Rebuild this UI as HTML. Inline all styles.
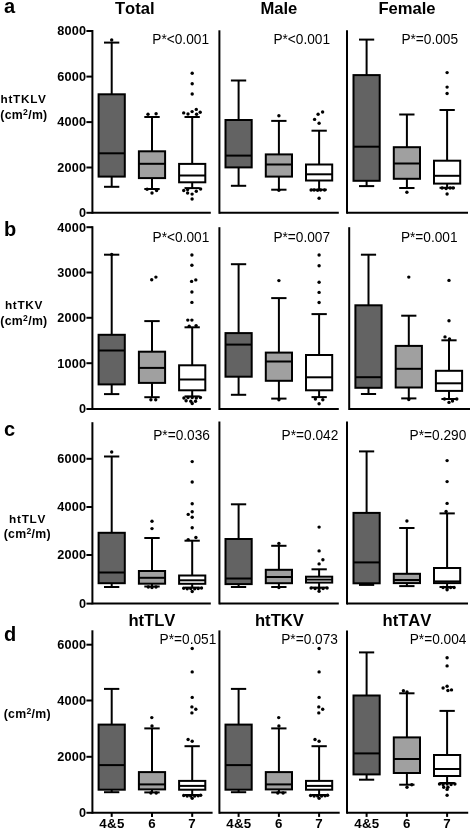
<!DOCTYPE html>
<html><head><meta charset="utf-8"><title>Figure</title>
<style>
html,body{margin:0;padding:0;background:#fff;}
body{width:472px;height:830px;overflow:hidden;}
svg{display:block;font-family:"Liberation Sans",Arial,Helvetica,sans-serif;fill:#000;font-kerning:none;}
</style></head><body>
<svg width="472" height="830" viewBox="0 0 472 830">
<rect x="0" y="0" width="472" height="830" fill="#fff" stroke="none"/>
<text x="4.0" y="13.2" font-size="20" font-weight="700" text-anchor="start">a</text>
<text x="4.0" y="235.6" font-size="20" font-weight="700" text-anchor="start">b</text>
<text x="4.0" y="435.6" font-size="20" font-weight="700" text-anchor="start">c</text>
<text x="4.0" y="641.3" font-size="20" font-weight="700" text-anchor="start">d</text>
<text x="134.8" y="13.7" font-size="16.6" font-weight="700" text-anchor="middle">Total</text>
<text x="278.9" y="13.7" font-size="16.6" font-weight="700" text-anchor="middle">Male</text>
<text x="407.0" y="13.7" font-size="16.6" font-weight="700" text-anchor="middle">Female</text>
<text x="151.9" y="626.2" font-size="16.6" font-weight="700" text-anchor="middle">htTLV</text>
<text x="279.4" y="626.2" font-size="16.6" font-weight="700" text-anchor="middle">htTKV</text>
<text x="407.0" y="626.2" font-size="16.6" font-weight="700" text-anchor="middle">htTAV</text>
<text x="0.5" y="103.4" font-size="11.8" font-weight="700" text-anchor="start" letter-spacing="0.7">htTKLV</text>
<text x="0.3" y="118.7" font-size="12.3" font-weight="700" text-anchor="start" letter-spacing="0.3">(cm<tspan font-size="8.6" dy="-4.0">2</tspan><tspan dy="4.0">/m)</tspan></text>
<text x="4.9" y="309.4" font-size="11.8" font-weight="700" text-anchor="start" letter-spacing="0.7">htTKV</text>
<text x="0.3" y="324.6" font-size="12.3" font-weight="700" text-anchor="start" letter-spacing="0.3">(cm<tspan font-size="8.6" dy="-4.0">2</tspan><tspan dy="4.0">/m)</tspan></text>
<text x="9.1" y="523.1" font-size="11.8" font-weight="700" text-anchor="start" letter-spacing="0.7">htTLV</text>
<text x="3.7" y="538.2" font-size="12.3" font-weight="700" text-anchor="start" letter-spacing="0.3">(cm<tspan font-size="8.6" dy="-4.0">2</tspan><tspan dy="4.0">/m)</tspan></text>
<text x="3.7" y="717.5" font-size="12.3" font-weight="700" text-anchor="start" letter-spacing="0.3">(cm<tspan font-size="8.6" dy="-4.0">2</tspan><tspan dy="4.0">/m)</tspan></text>
<line x1="92.4" y1="30.0" x2="92.4" y2="213.8" stroke="#000" stroke-width="2.0" stroke-linecap="butt"/>
<line x1="92.4" y1="212.8" x2="210.8" y2="212.8" stroke="#000" stroke-width="2.0" stroke-linecap="butt"/>
<line x1="86.4" y1="31.0" x2="92.4" y2="31.0" stroke="#000" stroke-width="2.0" stroke-linecap="butt"/>
<text x="86.4" y="35.3" font-size="12.7" font-weight="700" text-anchor="end" letter-spacing="0.25">8000</text>
<line x1="86.4" y1="76.6" x2="92.4" y2="76.6" stroke="#000" stroke-width="2.0" stroke-linecap="butt"/>
<text x="86.4" y="80.9" font-size="12.7" font-weight="700" text-anchor="end" letter-spacing="0.25">6000</text>
<line x1="86.4" y1="122.1" x2="92.4" y2="122.1" stroke="#000" stroke-width="2.0" stroke-linecap="butt"/>
<text x="86.4" y="126.4" font-size="12.7" font-weight="700" text-anchor="end" letter-spacing="0.25">4000</text>
<line x1="86.4" y1="167.5" x2="92.4" y2="167.5" stroke="#000" stroke-width="2.0" stroke-linecap="butt"/>
<text x="86.4" y="171.8" font-size="12.7" font-weight="700" text-anchor="end" letter-spacing="0.25">2000</text>
<line x1="86.4" y1="212.8" x2="92.4" y2="212.8" stroke="#000" stroke-width="2.0" stroke-linecap="butt"/>
<text x="86.4" y="217.1" font-size="12.7" font-weight="700" text-anchor="end" letter-spacing="0.25">0</text>
<line x1="219.4" y1="30.3" x2="219.4" y2="213.8" stroke="#000" stroke-width="2.0" stroke-linecap="butt"/>
<line x1="219.4" y1="212.8" x2="338.8" y2="212.8" stroke="#000" stroke-width="2.0" stroke-linecap="butt"/>
<line x1="347.0" y1="30.3" x2="347.0" y2="213.8" stroke="#000" stroke-width="2.0" stroke-linecap="butt"/>
<line x1="347.0" y1="212.8" x2="468.0" y2="212.8" stroke="#000" stroke-width="2.0" stroke-linecap="butt"/>
<text transform="translate(209.0,44.1) scale(1,1.07)" font-size="13.7" text-anchor="end">P*&lt;0.001</text>
<text transform="translate(330.1,44.1) scale(1,1.07)" font-size="13.7" text-anchor="end">P*&lt;0.001</text>
<text transform="translate(458.1,44.1) scale(1,1.07)" font-size="13.7" text-anchor="end">P*=0.005</text>
<line x1="111.7" y1="42.6" x2="111.7" y2="94.3" stroke="#000" stroke-width="2.0" stroke-linecap="butt"/>
<line x1="111.7" y1="176.6" x2="111.7" y2="186.8" stroke="#000" stroke-width="2.0" stroke-linecap="butt"/>
<line x1="104.0" y1="42.6" x2="119.3" y2="42.6" stroke="#000" stroke-width="2.0" stroke-linecap="butt"/>
<line x1="104.0" y1="186.8" x2="119.3" y2="186.8" stroke="#000" stroke-width="2.0" stroke-linecap="butt"/>
<rect x="98.6" y="94.3" width="26.2" height="82.3" fill="#636363" stroke="#000" stroke-width="2.0"/>
<line x1="98.6" y1="153.3" x2="124.8" y2="153.3" stroke="#000" stroke-width="2.0" stroke-linecap="butt"/>
<circle cx="111.7" cy="40.0" r="1.7" fill="#000"/>
<line x1="152.0" y1="117.0" x2="152.0" y2="151.3" stroke="#000" stroke-width="2.0" stroke-linecap="butt"/>
<line x1="152.0" y1="178.1" x2="152.0" y2="189.0" stroke="#000" stroke-width="2.0" stroke-linecap="butt"/>
<line x1="144.3" y1="117.0" x2="159.7" y2="117.0" stroke="#000" stroke-width="2.0" stroke-linecap="butt"/>
<line x1="144.3" y1="189.0" x2="159.7" y2="189.0" stroke="#000" stroke-width="2.0" stroke-linecap="butt"/>
<rect x="138.9" y="151.3" width="26.2" height="26.8" fill="#a0a0a0" stroke="#000" stroke-width="2.0"/>
<line x1="138.9" y1="163.8" x2="165.1" y2="163.8" stroke="#000" stroke-width="2.0" stroke-linecap="butt"/>
<circle cx="148.0" cy="114.2" r="1.7" fill="#000"/>
<circle cx="156.1" cy="113.8" r="1.7" fill="#000"/>
<circle cx="152.0" cy="193.0" r="1.7" fill="#000"/>
<circle cx="156.6" cy="190.5" r="1.7" fill="#000"/>
<circle cx="147.1" cy="189.3" r="1.7" fill="#000"/>
<line x1="192.2" y1="117.0" x2="192.2" y2="163.9" stroke="#000" stroke-width="2.0" stroke-linecap="butt"/>
<line x1="192.2" y1="182.3" x2="192.2" y2="188.1" stroke="#000" stroke-width="2.0" stroke-linecap="butt"/>
<line x1="184.5" y1="117.0" x2="199.8" y2="117.0" stroke="#000" stroke-width="2.0" stroke-linecap="butt"/>
<line x1="184.5" y1="188.1" x2="199.8" y2="188.1" stroke="#000" stroke-width="2.0" stroke-linecap="butt"/>
<rect x="179.1" y="163.9" width="26.2" height="18.4" fill="#ffffff" stroke="#000" stroke-width="2.0"/>
<line x1="179.1" y1="175.5" x2="205.3" y2="175.5" stroke="#000" stroke-width="2.0" stroke-linecap="butt"/>
<circle cx="192.2" cy="73.2" r="1.7" fill="#000"/>
<circle cx="192.2" cy="83.7" r="1.7" fill="#000"/>
<circle cx="192.2" cy="94.0" r="1.7" fill="#000"/>
<circle cx="183.7" cy="112.9" r="1.7" fill="#000"/>
<circle cx="188.0" cy="114.0" r="1.7" fill="#000"/>
<circle cx="192.1" cy="111.6" r="1.7" fill="#000"/>
<circle cx="196.3" cy="109.4" r="1.7" fill="#000"/>
<circle cx="200.2" cy="112.3" r="1.7" fill="#000"/>
<circle cx="196.6" cy="114.3" r="1.7" fill="#000"/>
<circle cx="183.7" cy="190.5" r="1.7" fill="#000"/>
<circle cx="187.6" cy="189.6" r="1.7" fill="#000"/>
<circle cx="187.6" cy="193.0" r="1.7" fill="#000"/>
<circle cx="192.1" cy="194.1" r="1.7" fill="#000"/>
<circle cx="196.3" cy="191.2" r="1.7" fill="#000"/>
<circle cx="200.6" cy="189.0" r="1.7" fill="#000"/>
<circle cx="192.1" cy="199.0" r="1.7" fill="#000"/>
<line x1="238.6" y1="80.5" x2="238.6" y2="120.0" stroke="#000" stroke-width="2.0" stroke-linecap="butt"/>
<line x1="238.6" y1="167.4" x2="238.6" y2="185.8" stroke="#000" stroke-width="2.0" stroke-linecap="butt"/>
<line x1="230.9" y1="80.5" x2="246.2" y2="80.5" stroke="#000" stroke-width="2.0" stroke-linecap="butt"/>
<line x1="230.9" y1="185.8" x2="246.2" y2="185.8" stroke="#000" stroke-width="2.0" stroke-linecap="butt"/>
<rect x="225.5" y="120.0" width="26.2" height="47.4" fill="#636363" stroke="#000" stroke-width="2.0"/>
<line x1="225.5" y1="155.6" x2="251.7" y2="155.6" stroke="#000" stroke-width="2.0" stroke-linecap="butt"/>
<line x1="278.9" y1="120.9" x2="278.9" y2="154.4" stroke="#000" stroke-width="2.0" stroke-linecap="butt"/>
<line x1="278.9" y1="176.6" x2="278.9" y2="189.7" stroke="#000" stroke-width="2.0" stroke-linecap="butt"/>
<line x1="271.2" y1="120.9" x2="286.5" y2="120.9" stroke="#000" stroke-width="2.0" stroke-linecap="butt"/>
<line x1="271.2" y1="189.7" x2="286.5" y2="189.7" stroke="#000" stroke-width="2.0" stroke-linecap="butt"/>
<rect x="265.8" y="154.4" width="26.2" height="22.2" fill="#a0a0a0" stroke="#000" stroke-width="2.0"/>
<line x1="265.8" y1="164.5" x2="292.0" y2="164.5" stroke="#000" stroke-width="2.0" stroke-linecap="butt"/>
<circle cx="278.9" cy="115.8" r="1.7" fill="#000"/>
<circle cx="278.9" cy="190.2" r="1.7" fill="#000"/>
<line x1="319.1" y1="130.7" x2="319.1" y2="164.5" stroke="#000" stroke-width="2.0" stroke-linecap="butt"/>
<line x1="319.1" y1="180.5" x2="319.1" y2="189.7" stroke="#000" stroke-width="2.0" stroke-linecap="butt"/>
<line x1="311.5" y1="130.7" x2="326.8" y2="130.7" stroke="#000" stroke-width="2.0" stroke-linecap="butt"/>
<line x1="311.5" y1="189.7" x2="326.8" y2="189.7" stroke="#000" stroke-width="2.0" stroke-linecap="butt"/>
<rect x="306.0" y="164.5" width="26.2" height="16.0" fill="#ffffff" stroke="#000" stroke-width="2.0"/>
<line x1="306.0" y1="174.3" x2="332.2" y2="174.3" stroke="#000" stroke-width="2.0" stroke-linecap="butt"/>
<circle cx="322.6" cy="112.0" r="1.7" fill="#000"/>
<circle cx="318.1" cy="114.3" r="1.7" fill="#000"/>
<circle cx="314.6" cy="119.4" r="1.7" fill="#000"/>
<circle cx="319.1" cy="123.2" r="1.7" fill="#000"/>
<circle cx="311.1" cy="190.0" r="1.7" fill="#000"/>
<circle cx="314.1" cy="190.0" r="1.7" fill="#000"/>
<circle cx="320.6" cy="190.0" r="1.7" fill="#000"/>
<circle cx="324.6" cy="190.0" r="1.7" fill="#000"/>
<circle cx="317.6" cy="190.3" r="1.7" fill="#000"/>
<circle cx="319.1" cy="198.3" r="1.7" fill="#000"/>
<line x1="366.6" y1="39.6" x2="366.6" y2="75.1" stroke="#000" stroke-width="2.0" stroke-linecap="butt"/>
<line x1="366.6" y1="180.8" x2="366.6" y2="186.1" stroke="#000" stroke-width="2.0" stroke-linecap="butt"/>
<line x1="359.0" y1="39.6" x2="374.2" y2="39.6" stroke="#000" stroke-width="2.0" stroke-linecap="butt"/>
<line x1="359.0" y1="186.1" x2="374.2" y2="186.1" stroke="#000" stroke-width="2.0" stroke-linecap="butt"/>
<rect x="353.5" y="75.1" width="26.2" height="105.7" fill="#636363" stroke="#000" stroke-width="2.0"/>
<line x1="353.5" y1="146.7" x2="379.7" y2="146.7" stroke="#000" stroke-width="2.0" stroke-linecap="butt"/>
<line x1="406.9" y1="114.5" x2="406.9" y2="147.2" stroke="#000" stroke-width="2.0" stroke-linecap="butt"/>
<line x1="406.9" y1="178.8" x2="406.9" y2="188.0" stroke="#000" stroke-width="2.0" stroke-linecap="butt"/>
<line x1="399.2" y1="114.5" x2="414.5" y2="114.5" stroke="#000" stroke-width="2.0" stroke-linecap="butt"/>
<line x1="399.2" y1="188.0" x2="414.5" y2="188.0" stroke="#000" stroke-width="2.0" stroke-linecap="butt"/>
<rect x="393.8" y="147.2" width="26.2" height="31.6" fill="#a0a0a0" stroke="#000" stroke-width="2.0"/>
<line x1="393.8" y1="163.5" x2="420.0" y2="163.5" stroke="#000" stroke-width="2.0" stroke-linecap="butt"/>
<circle cx="406.9" cy="192.3" r="1.7" fill="#000"/>
<line x1="447.1" y1="110.0" x2="447.1" y2="160.7" stroke="#000" stroke-width="2.0" stroke-linecap="butt"/>
<line x1="447.1" y1="183.6" x2="447.1" y2="187.8" stroke="#000" stroke-width="2.0" stroke-linecap="butt"/>
<line x1="439.5" y1="110.0" x2="454.8" y2="110.0" stroke="#000" stroke-width="2.0" stroke-linecap="butt"/>
<line x1="439.5" y1="187.8" x2="454.8" y2="187.8" stroke="#000" stroke-width="2.0" stroke-linecap="butt"/>
<rect x="434.0" y="160.7" width="26.2" height="22.9" fill="#ffffff" stroke="#000" stroke-width="2.0"/>
<line x1="434.0" y1="175.8" x2="460.2" y2="175.8" stroke="#000" stroke-width="2.0" stroke-linecap="butt"/>
<circle cx="447.1" cy="72.6" r="1.7" fill="#000"/>
<circle cx="447.1" cy="87.1" r="1.7" fill="#000"/>
<circle cx="447.1" cy="93.5" r="1.7" fill="#000"/>
<circle cx="442.1" cy="188.0" r="1.7" fill="#000"/>
<circle cx="446.1" cy="188.5" r="1.7" fill="#000"/>
<circle cx="450.1" cy="188.0" r="1.7" fill="#000"/>
<circle cx="453.1" cy="188.0" r="1.7" fill="#000"/>
<circle cx="447.1" cy="194.0" r="1.7" fill="#000"/>
<line x1="92.4" y1="226.2" x2="92.4" y2="410.0" stroke="#000" stroke-width="2.0" stroke-linecap="butt"/>
<line x1="92.4" y1="409.0" x2="210.8" y2="409.0" stroke="#000" stroke-width="2.0" stroke-linecap="butt"/>
<line x1="86.4" y1="227.2" x2="92.4" y2="227.2" stroke="#000" stroke-width="2.0" stroke-linecap="butt"/>
<text x="86.4" y="231.5" font-size="12.7" font-weight="700" text-anchor="end" letter-spacing="0.25">4000</text>
<line x1="86.4" y1="272.5" x2="92.4" y2="272.5" stroke="#000" stroke-width="2.0" stroke-linecap="butt"/>
<text x="86.4" y="276.8" font-size="12.7" font-weight="700" text-anchor="end" letter-spacing="0.25">3000</text>
<line x1="86.4" y1="317.8" x2="92.4" y2="317.8" stroke="#000" stroke-width="2.0" stroke-linecap="butt"/>
<text x="86.4" y="322.1" font-size="12.7" font-weight="700" text-anchor="end" letter-spacing="0.25">2000</text>
<line x1="86.4" y1="363.2" x2="92.4" y2="363.2" stroke="#000" stroke-width="2.0" stroke-linecap="butt"/>
<text x="86.4" y="367.5" font-size="12.7" font-weight="700" text-anchor="end" letter-spacing="0.25">1000</text>
<line x1="86.4" y1="409.0" x2="92.4" y2="409.0" stroke="#000" stroke-width="2.0" stroke-linecap="butt"/>
<text x="86.4" y="413.3" font-size="12.7" font-weight="700" text-anchor="end" letter-spacing="0.25">0</text>
<line x1="219.4" y1="227.2" x2="219.4" y2="410.0" stroke="#000" stroke-width="2.0" stroke-linecap="butt"/>
<line x1="219.4" y1="409.0" x2="338.8" y2="409.0" stroke="#000" stroke-width="2.0" stroke-linecap="butt"/>
<line x1="349.2" y1="227.2" x2="349.2" y2="410.0" stroke="#000" stroke-width="2.0" stroke-linecap="butt"/>
<line x1="349.2" y1="409.0" x2="470.0" y2="409.0" stroke="#000" stroke-width="2.0" stroke-linecap="butt"/>
<text transform="translate(209.3,241.5) scale(1,1.07)" font-size="13.7" text-anchor="end">P*&lt;0.001</text>
<text transform="translate(330.1,241.5) scale(1,1.07)" font-size="13.7" text-anchor="end">P*=0.007</text>
<text transform="translate(457.6,241.5) scale(1,1.07)" font-size="13.7" text-anchor="end">P*=0.001</text>
<line x1="111.7" y1="254.7" x2="111.7" y2="334.8" stroke="#000" stroke-width="2.0" stroke-linecap="butt"/>
<line x1="111.7" y1="384.4" x2="111.7" y2="394.1" stroke="#000" stroke-width="2.0" stroke-linecap="butt"/>
<line x1="104.0" y1="254.7" x2="119.3" y2="254.7" stroke="#000" stroke-width="2.0" stroke-linecap="butt"/>
<line x1="104.0" y1="394.1" x2="119.3" y2="394.1" stroke="#000" stroke-width="2.0" stroke-linecap="butt"/>
<rect x="98.6" y="334.8" width="26.2" height="49.6" fill="#636363" stroke="#000" stroke-width="2.0"/>
<line x1="98.6" y1="350.5" x2="124.8" y2="350.5" stroke="#000" stroke-width="2.0" stroke-linecap="butt"/>
<circle cx="111.7" cy="254.5" r="1.7" fill="#000"/>
<line x1="152.0" y1="321.1" x2="152.0" y2="351.7" stroke="#000" stroke-width="2.0" stroke-linecap="butt"/>
<line x1="152.0" y1="382.9" x2="152.0" y2="397.2" stroke="#000" stroke-width="2.0" stroke-linecap="butt"/>
<line x1="144.3" y1="321.1" x2="159.7" y2="321.1" stroke="#000" stroke-width="2.0" stroke-linecap="butt"/>
<line x1="144.3" y1="397.2" x2="159.7" y2="397.2" stroke="#000" stroke-width="2.0" stroke-linecap="butt"/>
<rect x="138.9" y="351.7" width="26.2" height="31.2" fill="#a0a0a0" stroke="#000" stroke-width="2.0"/>
<line x1="138.9" y1="367.9" x2="165.1" y2="367.9" stroke="#000" stroke-width="2.0" stroke-linecap="butt"/>
<circle cx="151.7" cy="279.8" r="1.7" fill="#000"/>
<circle cx="155.9" cy="277.1" r="1.7" fill="#000"/>
<circle cx="150.9" cy="399.8" r="1.7" fill="#000"/>
<circle cx="155.7" cy="399.8" r="1.7" fill="#000"/>
<line x1="192.2" y1="327.3" x2="192.2" y2="365.3" stroke="#000" stroke-width="2.0" stroke-linecap="butt"/>
<line x1="192.2" y1="390.3" x2="192.2" y2="396.4" stroke="#000" stroke-width="2.0" stroke-linecap="butt"/>
<line x1="184.5" y1="327.3" x2="199.8" y2="327.3" stroke="#000" stroke-width="2.0" stroke-linecap="butt"/>
<line x1="184.5" y1="396.4" x2="199.8" y2="396.4" stroke="#000" stroke-width="2.0" stroke-linecap="butt"/>
<rect x="179.1" y="365.3" width="26.2" height="25.0" fill="#ffffff" stroke="#000" stroke-width="2.0"/>
<line x1="179.1" y1="379.5" x2="205.3" y2="379.5" stroke="#000" stroke-width="2.0" stroke-linecap="butt"/>
<circle cx="191.9" cy="255.0" r="1.7" fill="#000"/>
<circle cx="191.9" cy="265.3" r="1.7" fill="#000"/>
<circle cx="191.6" cy="281.4" r="1.7" fill="#000"/>
<circle cx="195.8" cy="279.9" r="1.7" fill="#000"/>
<circle cx="191.9" cy="292.0" r="1.7" fill="#000"/>
<circle cx="191.9" cy="302.4" r="1.7" fill="#000"/>
<circle cx="187.8" cy="320.1" r="1.7" fill="#000"/>
<circle cx="191.9" cy="320.1" r="1.7" fill="#000"/>
<circle cx="196.1" cy="325.6" r="1.7" fill="#000"/>
<circle cx="189.2" cy="326.3" r="1.7" fill="#000"/>
<circle cx="183.9" cy="398.0" r="1.7" fill="#000"/>
<circle cx="188.0" cy="397.5" r="1.7" fill="#000"/>
<circle cx="192.2" cy="397.5" r="1.7" fill="#000"/>
<circle cx="196.3" cy="398.0" r="1.7" fill="#000"/>
<circle cx="200.4" cy="397.5" r="1.7" fill="#000"/>
<circle cx="186.1" cy="400.8" r="1.7" fill="#000"/>
<circle cx="190.8" cy="401.3" r="1.7" fill="#000"/>
<circle cx="195.5" cy="401.3" r="1.7" fill="#000"/>
<circle cx="192.2" cy="403.5" r="1.7" fill="#000"/>
<line x1="238.6" y1="264.2" x2="238.6" y2="333.1" stroke="#000" stroke-width="2.0" stroke-linecap="butt"/>
<line x1="238.6" y1="376.7" x2="238.6" y2="394.8" stroke="#000" stroke-width="2.0" stroke-linecap="butt"/>
<line x1="230.9" y1="264.2" x2="246.2" y2="264.2" stroke="#000" stroke-width="2.0" stroke-linecap="butt"/>
<line x1="230.9" y1="394.8" x2="246.2" y2="394.8" stroke="#000" stroke-width="2.0" stroke-linecap="butt"/>
<rect x="225.5" y="333.1" width="26.2" height="43.6" fill="#636363" stroke="#000" stroke-width="2.0"/>
<line x1="225.5" y1="344.6" x2="251.7" y2="344.6" stroke="#000" stroke-width="2.0" stroke-linecap="butt"/>
<line x1="278.9" y1="298.1" x2="278.9" y2="352.6" stroke="#000" stroke-width="2.0" stroke-linecap="butt"/>
<line x1="278.9" y1="380.8" x2="278.9" y2="398.6" stroke="#000" stroke-width="2.0" stroke-linecap="butt"/>
<line x1="271.2" y1="298.1" x2="286.5" y2="298.1" stroke="#000" stroke-width="2.0" stroke-linecap="butt"/>
<line x1="271.2" y1="398.6" x2="286.5" y2="398.6" stroke="#000" stroke-width="2.0" stroke-linecap="butt"/>
<rect x="265.8" y="352.6" width="26.2" height="28.2" fill="#a0a0a0" stroke="#000" stroke-width="2.0"/>
<line x1="265.8" y1="361.5" x2="292.0" y2="361.5" stroke="#000" stroke-width="2.0" stroke-linecap="butt"/>
<circle cx="278.9" cy="280.6" r="1.7" fill="#000"/>
<circle cx="278.9" cy="399.8" r="1.7" fill="#000"/>
<line x1="319.1" y1="314.1" x2="319.1" y2="355.0" stroke="#000" stroke-width="2.0" stroke-linecap="butt"/>
<line x1="319.1" y1="390.3" x2="319.1" y2="397.1" stroke="#000" stroke-width="2.0" stroke-linecap="butt"/>
<line x1="311.5" y1="314.1" x2="326.8" y2="314.1" stroke="#000" stroke-width="2.0" stroke-linecap="butt"/>
<line x1="311.5" y1="397.1" x2="326.8" y2="397.1" stroke="#000" stroke-width="2.0" stroke-linecap="butt"/>
<rect x="306.0" y="355.0" width="26.2" height="35.3" fill="#ffffff" stroke="#000" stroke-width="2.0"/>
<line x1="306.0" y1="377.3" x2="332.2" y2="377.3" stroke="#000" stroke-width="2.0" stroke-linecap="butt"/>
<circle cx="319.1" cy="255.0" r="1.7" fill="#000"/>
<circle cx="319.1" cy="265.7" r="1.7" fill="#000"/>
<circle cx="319.1" cy="282.3" r="1.7" fill="#000"/>
<circle cx="319.1" cy="292.4" r="1.7" fill="#000"/>
<circle cx="319.1" cy="302.5" r="1.7" fill="#000"/>
<circle cx="315.4" cy="399.0" r="1.7" fill="#000"/>
<circle cx="322.8" cy="399.8" r="1.7" fill="#000"/>
<circle cx="319.1" cy="403.7" r="1.7" fill="#000"/>
<line x1="368.5" y1="254.7" x2="368.5" y2="305.3" stroke="#000" stroke-width="2.0" stroke-linecap="butt"/>
<line x1="368.5" y1="387.8" x2="368.5" y2="394.0" stroke="#000" stroke-width="2.0" stroke-linecap="butt"/>
<line x1="360.9" y1="254.7" x2="376.1" y2="254.7" stroke="#000" stroke-width="2.0" stroke-linecap="butt"/>
<line x1="360.9" y1="394.0" x2="376.1" y2="394.0" stroke="#000" stroke-width="2.0" stroke-linecap="butt"/>
<rect x="355.4" y="305.3" width="26.2" height="82.5" fill="#636363" stroke="#000" stroke-width="2.0"/>
<line x1="355.4" y1="377.2" x2="381.6" y2="377.2" stroke="#000" stroke-width="2.0" stroke-linecap="butt"/>
<line x1="408.8" y1="315.7" x2="408.8" y2="345.9" stroke="#000" stroke-width="2.0" stroke-linecap="butt"/>
<line x1="408.8" y1="387.5" x2="408.8" y2="398.4" stroke="#000" stroke-width="2.0" stroke-linecap="butt"/>
<line x1="401.2" y1="315.7" x2="416.4" y2="315.7" stroke="#000" stroke-width="2.0" stroke-linecap="butt"/>
<line x1="401.2" y1="398.4" x2="416.4" y2="398.4" stroke="#000" stroke-width="2.0" stroke-linecap="butt"/>
<rect x="395.7" y="345.9" width="26.2" height="41.6" fill="#a0a0a0" stroke="#000" stroke-width="2.0"/>
<line x1="395.7" y1="368.8" x2="421.9" y2="368.8" stroke="#000" stroke-width="2.0" stroke-linecap="butt"/>
<circle cx="408.8" cy="277.1" r="1.7" fill="#000"/>
<circle cx="408.8" cy="399.6" r="1.7" fill="#000"/>
<line x1="449.0" y1="340.3" x2="449.0" y2="370.8" stroke="#000" stroke-width="2.0" stroke-linecap="butt"/>
<line x1="449.0" y1="390.9" x2="449.0" y2="399.0" stroke="#000" stroke-width="2.0" stroke-linecap="butt"/>
<line x1="441.4" y1="340.3" x2="456.6" y2="340.3" stroke="#000" stroke-width="2.0" stroke-linecap="butt"/>
<line x1="441.4" y1="399.0" x2="456.6" y2="399.0" stroke="#000" stroke-width="2.0" stroke-linecap="butt"/>
<rect x="435.9" y="370.8" width="26.2" height="20.1" fill="#ffffff" stroke="#000" stroke-width="2.0"/>
<line x1="435.9" y1="383.3" x2="462.1" y2="383.3" stroke="#000" stroke-width="2.0" stroke-linecap="butt"/>
<circle cx="449.0" cy="280.4" r="1.7" fill="#000"/>
<circle cx="449.0" cy="320.7" r="1.7" fill="#000"/>
<circle cx="445.0" cy="336.9" r="1.7" fill="#000"/>
<circle cx="449.5" cy="338.9" r="1.7" fill="#000"/>
<circle cx="444.5" cy="399.0" r="1.7" fill="#000"/>
<circle cx="449.0" cy="402.4" r="1.7" fill="#000"/>
<circle cx="452.5" cy="401.0" r="1.7" fill="#000"/>
<circle cx="456.8" cy="399.0" r="1.7" fill="#000"/>
<line x1="92.4" y1="422.2" x2="92.4" y2="604.4" stroke="#000" stroke-width="2.0" stroke-linecap="butt"/>
<line x1="92.4" y1="603.4" x2="210.8" y2="603.4" stroke="#000" stroke-width="2.0" stroke-linecap="butt"/>
<line x1="86.4" y1="458.8" x2="92.4" y2="458.8" stroke="#000" stroke-width="2.0" stroke-linecap="butt"/>
<text x="86.4" y="463.1" font-size="12.7" font-weight="700" text-anchor="end" letter-spacing="0.25">6000</text>
<line x1="86.4" y1="507.0" x2="92.4" y2="507.0" stroke="#000" stroke-width="2.0" stroke-linecap="butt"/>
<text x="86.4" y="511.3" font-size="12.7" font-weight="700" text-anchor="end" letter-spacing="0.25">4000</text>
<line x1="86.4" y1="555.0" x2="92.4" y2="555.0" stroke="#000" stroke-width="2.0" stroke-linecap="butt"/>
<text x="86.4" y="559.3" font-size="12.7" font-weight="700" text-anchor="end" letter-spacing="0.25">2000</text>
<line x1="86.4" y1="603.6" x2="92.4" y2="603.6" stroke="#000" stroke-width="2.0" stroke-linecap="butt"/>
<text x="86.4" y="607.9" font-size="12.7" font-weight="700" text-anchor="end" letter-spacing="0.25">0</text>
<line x1="219.4" y1="421.5" x2="219.4" y2="604.4" stroke="#000" stroke-width="2.0" stroke-linecap="butt"/>
<line x1="219.4" y1="603.4" x2="338.8" y2="603.4" stroke="#000" stroke-width="2.0" stroke-linecap="butt"/>
<line x1="347.0" y1="421.5" x2="347.0" y2="604.4" stroke="#000" stroke-width="2.0" stroke-linecap="butt"/>
<line x1="347.0" y1="603.4" x2="468.0" y2="603.4" stroke="#000" stroke-width="2.0" stroke-linecap="butt"/>
<text transform="translate(209.9,439.6) scale(1,1.07)" font-size="13.7" text-anchor="end">P*=0.036</text>
<text transform="translate(338.3,439.6) scale(1,1.07)" font-size="13.7" text-anchor="end">P*=0.042</text>
<text transform="translate(466.3,439.6) scale(1,1.07)" font-size="13.7" text-anchor="end">P*=0.290</text>
<line x1="111.7" y1="456.5" x2="111.7" y2="532.8" stroke="#000" stroke-width="2.0" stroke-linecap="butt"/>
<line x1="111.7" y1="583.2" x2="111.7" y2="587.0" stroke="#000" stroke-width="2.0" stroke-linecap="butt"/>
<line x1="104.0" y1="456.5" x2="119.3" y2="456.5" stroke="#000" stroke-width="2.0" stroke-linecap="butt"/>
<line x1="104.0" y1="587.0" x2="119.3" y2="587.0" stroke="#000" stroke-width="2.0" stroke-linecap="butt"/>
<rect x="98.6" y="532.8" width="26.2" height="50.4" fill="#636363" stroke="#000" stroke-width="2.0"/>
<line x1="98.6" y1="572.5" x2="124.8" y2="572.5" stroke="#000" stroke-width="2.0" stroke-linecap="butt"/>
<circle cx="111.7" cy="452.0" r="1.7" fill="#000"/>
<line x1="152.0" y1="538.0" x2="152.0" y2="571.0" stroke="#000" stroke-width="2.0" stroke-linecap="butt"/>
<line x1="152.0" y1="583.7" x2="152.0" y2="586.5" stroke="#000" stroke-width="2.0" stroke-linecap="butt"/>
<line x1="144.3" y1="538.0" x2="159.7" y2="538.0" stroke="#000" stroke-width="2.0" stroke-linecap="butt"/>
<line x1="144.3" y1="586.5" x2="159.7" y2="586.5" stroke="#000" stroke-width="2.0" stroke-linecap="butt"/>
<rect x="138.9" y="571.0" width="26.2" height="12.7" fill="#a0a0a0" stroke="#000" stroke-width="2.0"/>
<line x1="138.9" y1="577.8" x2="165.1" y2="577.8" stroke="#000" stroke-width="2.0" stroke-linecap="butt"/>
<circle cx="152.0" cy="521.2" r="1.7" fill="#000"/>
<circle cx="152.0" cy="528.6" r="1.7" fill="#000"/>
<circle cx="148.3" cy="587.0" r="1.7" fill="#000"/>
<circle cx="152.0" cy="587.5" r="1.7" fill="#000"/>
<circle cx="156.0" cy="587.0" r="1.7" fill="#000"/>
<line x1="192.2" y1="540.7" x2="192.2" y2="575.5" stroke="#000" stroke-width="2.0" stroke-linecap="butt"/>
<line x1="192.2" y1="583.8" x2="192.2" y2="587.6" stroke="#000" stroke-width="2.0" stroke-linecap="butt"/>
<line x1="184.5" y1="540.7" x2="199.8" y2="540.7" stroke="#000" stroke-width="2.0" stroke-linecap="butt"/>
<line x1="184.5" y1="587.6" x2="199.8" y2="587.6" stroke="#000" stroke-width="2.0" stroke-linecap="butt"/>
<rect x="179.1" y="575.5" width="26.2" height="8.3" fill="#ffffff" stroke="#000" stroke-width="2.0"/>
<line x1="179.1" y1="580.3" x2="205.3" y2="580.3" stroke="#000" stroke-width="2.0" stroke-linecap="butt"/>
<circle cx="192.2" cy="461.6" r="1.7" fill="#000"/>
<circle cx="192.2" cy="482.0" r="1.7" fill="#000"/>
<circle cx="192.2" cy="503.7" r="1.7" fill="#000"/>
<circle cx="188.2" cy="514.4" r="1.7" fill="#000"/>
<circle cx="192.2" cy="511.7" r="1.7" fill="#000"/>
<circle cx="192.2" cy="517.3" r="1.7" fill="#000"/>
<circle cx="192.2" cy="527.7" r="1.7" fill="#000"/>
<circle cx="195.9" cy="537.5" r="1.7" fill="#000"/>
<circle cx="188.2" cy="539.6" r="1.7" fill="#000"/>
<circle cx="183.7" cy="588.2" r="1.7" fill="#000"/>
<circle cx="187.2" cy="588.8" r="1.7" fill="#000"/>
<circle cx="190.7" cy="588.5" r="1.7" fill="#000"/>
<circle cx="194.7" cy="588.8" r="1.7" fill="#000"/>
<circle cx="198.2" cy="588.5" r="1.7" fill="#000"/>
<circle cx="201.5" cy="588.0" r="1.7" fill="#000"/>
<circle cx="192.2" cy="591.5" r="1.7" fill="#000"/>
<line x1="238.6" y1="504.3" x2="238.6" y2="539.0" stroke="#000" stroke-width="2.0" stroke-linecap="butt"/>
<line x1="238.6" y1="584.1" x2="238.6" y2="587.0" stroke="#000" stroke-width="2.0" stroke-linecap="butt"/>
<line x1="230.9" y1="504.3" x2="246.2" y2="504.3" stroke="#000" stroke-width="2.0" stroke-linecap="butt"/>
<line x1="230.9" y1="587.0" x2="246.2" y2="587.0" stroke="#000" stroke-width="2.0" stroke-linecap="butt"/>
<rect x="225.5" y="539.0" width="26.2" height="45.1" fill="#636363" stroke="#000" stroke-width="2.0"/>
<line x1="225.5" y1="578.5" x2="251.7" y2="578.5" stroke="#000" stroke-width="2.0" stroke-linecap="butt"/>
<line x1="278.9" y1="545.8" x2="278.9" y2="569.8" stroke="#000" stroke-width="2.0" stroke-linecap="butt"/>
<line x1="278.9" y1="583.2" x2="278.9" y2="587.0" stroke="#000" stroke-width="2.0" stroke-linecap="butt"/>
<line x1="271.2" y1="545.8" x2="286.5" y2="545.8" stroke="#000" stroke-width="2.0" stroke-linecap="butt"/>
<line x1="271.2" y1="587.0" x2="286.5" y2="587.0" stroke="#000" stroke-width="2.0" stroke-linecap="butt"/>
<rect x="265.8" y="569.8" width="26.2" height="13.4" fill="#a0a0a0" stroke="#000" stroke-width="2.0"/>
<line x1="265.8" y1="577.0" x2="292.0" y2="577.0" stroke="#000" stroke-width="2.0" stroke-linecap="butt"/>
<circle cx="278.9" cy="543.4" r="1.7" fill="#000"/>
<circle cx="278.9" cy="587.6" r="1.7" fill="#000"/>
<line x1="319.1" y1="569.3" x2="319.1" y2="576.7" stroke="#000" stroke-width="2.0" stroke-linecap="butt"/>
<line x1="319.1" y1="582.6" x2="319.1" y2="587.6" stroke="#000" stroke-width="2.0" stroke-linecap="butt"/>
<line x1="311.5" y1="569.3" x2="326.8" y2="569.3" stroke="#000" stroke-width="2.0" stroke-linecap="butt"/>
<line x1="311.5" y1="587.6" x2="326.8" y2="587.6" stroke="#000" stroke-width="2.0" stroke-linecap="butt"/>
<rect x="306.0" y="576.7" width="26.2" height="5.9" fill="#ffffff" stroke="#000" stroke-width="2.0"/>
<line x1="306.0" y1="579.6" x2="332.2" y2="579.6" stroke="#000" stroke-width="2.0" stroke-linecap="butt"/>
<circle cx="319.1" cy="527.1" r="1.7" fill="#000"/>
<circle cx="319.1" cy="550.9" r="1.7" fill="#000"/>
<circle cx="322.9" cy="559.8" r="1.7" fill="#000"/>
<circle cx="319.1" cy="563.9" r="1.7" fill="#000"/>
<circle cx="311.1" cy="588.0" r="1.7" fill="#000"/>
<circle cx="315.1" cy="588.5" r="1.7" fill="#000"/>
<circle cx="319.1" cy="588.5" r="1.7" fill="#000"/>
<circle cx="323.1" cy="588.5" r="1.7" fill="#000"/>
<circle cx="327.1" cy="588.0" r="1.7" fill="#000"/>
<circle cx="319.1" cy="591.2" r="1.7" fill="#000"/>
<line x1="366.6" y1="451.4" x2="366.6" y2="512.9" stroke="#000" stroke-width="2.0" stroke-linecap="butt"/>
<line x1="366.6" y1="583.3" x2="366.6" y2="584.9" stroke="#000" stroke-width="2.0" stroke-linecap="butt"/>
<line x1="359.0" y1="451.4" x2="374.2" y2="451.4" stroke="#000" stroke-width="2.0" stroke-linecap="butt"/>
<line x1="359.0" y1="584.9" x2="374.2" y2="584.9" stroke="#000" stroke-width="2.0" stroke-linecap="butt"/>
<rect x="353.5" y="512.9" width="26.2" height="70.4" fill="#636363" stroke="#000" stroke-width="2.0"/>
<line x1="353.5" y1="562.4" x2="379.7" y2="562.4" stroke="#000" stroke-width="2.0" stroke-linecap="butt"/>
<line x1="406.9" y1="528.0" x2="406.9" y2="573.8" stroke="#000" stroke-width="2.0" stroke-linecap="butt"/>
<line x1="406.9" y1="583.1" x2="406.9" y2="586.1" stroke="#000" stroke-width="2.0" stroke-linecap="butt"/>
<line x1="399.2" y1="528.0" x2="414.5" y2="528.0" stroke="#000" stroke-width="2.0" stroke-linecap="butt"/>
<line x1="399.2" y1="586.1" x2="414.5" y2="586.1" stroke="#000" stroke-width="2.0" stroke-linecap="butt"/>
<rect x="393.8" y="573.8" width="26.2" height="9.3" fill="#a0a0a0" stroke="#000" stroke-width="2.0"/>
<line x1="393.8" y1="580.0" x2="420.0" y2="580.0" stroke="#000" stroke-width="2.0" stroke-linecap="butt"/>
<circle cx="406.9" cy="521.0" r="1.7" fill="#000"/>
<line x1="447.1" y1="513.4" x2="447.1" y2="568.0" stroke="#000" stroke-width="2.0" stroke-linecap="butt"/>
<line x1="447.1" y1="583.1" x2="447.1" y2="587.0" stroke="#000" stroke-width="2.0" stroke-linecap="butt"/>
<line x1="439.5" y1="513.4" x2="454.8" y2="513.4" stroke="#000" stroke-width="2.0" stroke-linecap="butt"/>
<line x1="439.5" y1="587.0" x2="454.8" y2="587.0" stroke="#000" stroke-width="2.0" stroke-linecap="butt"/>
<rect x="434.0" y="568.0" width="26.2" height="15.1" fill="#ffffff" stroke="#000" stroke-width="2.0"/>
<line x1="434.0" y1="581.4" x2="460.2" y2="581.4" stroke="#000" stroke-width="2.0" stroke-linecap="butt"/>
<circle cx="447.1" cy="460.6" r="1.7" fill="#000"/>
<circle cx="447.1" cy="481.6" r="1.7" fill="#000"/>
<circle cx="447.1" cy="503.4" r="1.7" fill="#000"/>
<circle cx="446.1" cy="511.5" r="1.7" fill="#000"/>
<circle cx="443.1" cy="587.5" r="1.7" fill="#000"/>
<circle cx="447.1" cy="588.0" r="1.7" fill="#000"/>
<circle cx="450.6" cy="587.5" r="1.7" fill="#000"/>
<circle cx="454.1" cy="587.5" r="1.7" fill="#000"/>
<circle cx="447.1" cy="589.8" r="1.7" fill="#000"/>
<line x1="92.4" y1="630.3" x2="92.4" y2="813.8" stroke="#000" stroke-width="2.0" stroke-linecap="butt"/>
<line x1="92.4" y1="812.8" x2="212.6" y2="812.8" stroke="#000" stroke-width="2.0" stroke-linecap="butt"/>
<line x1="86.4" y1="644.7" x2="92.4" y2="644.7" stroke="#000" stroke-width="2.0" stroke-linecap="butt"/>
<text x="86.4" y="649.0" font-size="12.7" font-weight="700" text-anchor="end" letter-spacing="0.25">6000</text>
<line x1="86.4" y1="700.5" x2="92.4" y2="700.5" stroke="#000" stroke-width="2.0" stroke-linecap="butt"/>
<text x="86.4" y="704.8" font-size="12.7" font-weight="700" text-anchor="end" letter-spacing="0.25">4000</text>
<line x1="86.4" y1="756.8" x2="92.4" y2="756.8" stroke="#000" stroke-width="2.0" stroke-linecap="butt"/>
<text x="86.4" y="761.1" font-size="12.7" font-weight="700" text-anchor="end" letter-spacing="0.25">2000</text>
<line x1="86.4" y1="812.8" x2="92.4" y2="812.8" stroke="#000" stroke-width="2.0" stroke-linecap="butt"/>
<text x="86.4" y="817.1" font-size="12.7" font-weight="700" text-anchor="end" letter-spacing="0.25">0</text>
<line x1="219.4" y1="630.4" x2="219.4" y2="813.8" stroke="#000" stroke-width="2.0" stroke-linecap="butt"/>
<line x1="219.4" y1="812.8" x2="339.7" y2="812.8" stroke="#000" stroke-width="2.0" stroke-linecap="butt"/>
<line x1="347.0" y1="630.4" x2="347.0" y2="813.8" stroke="#000" stroke-width="2.0" stroke-linecap="butt"/>
<line x1="347.0" y1="812.8" x2="468.2" y2="812.8" stroke="#000" stroke-width="2.0" stroke-linecap="butt"/>
<text transform="translate(216.3,644.3) scale(1,1.07)" font-size="13.7" text-anchor="end">P*=0.051</text>
<text transform="translate(337.9,644.3) scale(1,1.07)" font-size="13.7" text-anchor="end">P*=0.073</text>
<text transform="translate(466.4,644.3) scale(1,1.07)" font-size="13.7" text-anchor="end">P*=0.004</text>
<line x1="111.7" y1="688.9" x2="111.7" y2="724.6" stroke="#000" stroke-width="2.0" stroke-linecap="butt"/>
<line x1="111.7" y1="789.7" x2="111.7" y2="792.2" stroke="#000" stroke-width="2.0" stroke-linecap="butt"/>
<line x1="104.0" y1="688.9" x2="119.3" y2="688.9" stroke="#000" stroke-width="2.0" stroke-linecap="butt"/>
<line x1="104.0" y1="792.2" x2="119.3" y2="792.2" stroke="#000" stroke-width="2.0" stroke-linecap="butt"/>
<rect x="98.6" y="724.6" width="26.2" height="65.1" fill="#636363" stroke="#000" stroke-width="2.0"/>
<line x1="98.6" y1="765.1" x2="124.8" y2="765.1" stroke="#000" stroke-width="2.0" stroke-linecap="butt"/>
<line x1="152.0" y1="728.4" x2="152.0" y2="772.1" stroke="#000" stroke-width="2.0" stroke-linecap="butt"/>
<line x1="152.0" y1="789.4" x2="152.0" y2="792.4" stroke="#000" stroke-width="2.0" stroke-linecap="butt"/>
<line x1="144.3" y1="728.4" x2="159.7" y2="728.4" stroke="#000" stroke-width="2.0" stroke-linecap="butt"/>
<line x1="144.3" y1="792.4" x2="159.7" y2="792.4" stroke="#000" stroke-width="2.0" stroke-linecap="butt"/>
<rect x="138.9" y="772.1" width="26.2" height="17.3" fill="#a0a0a0" stroke="#000" stroke-width="2.0"/>
<line x1="138.9" y1="784.4" x2="165.1" y2="784.4" stroke="#000" stroke-width="2.0" stroke-linecap="butt"/>
<circle cx="151.8" cy="717.6" r="1.7" fill="#000"/>
<circle cx="152.0" cy="726.0" r="1.7" fill="#000"/>
<circle cx="150.9" cy="793.0" r="1.7" fill="#000"/>
<circle cx="156.2" cy="793.0" r="1.7" fill="#000"/>
<line x1="192.2" y1="746.2" x2="192.2" y2="780.9" stroke="#000" stroke-width="2.0" stroke-linecap="butt"/>
<line x1="192.2" y1="789.7" x2="192.2" y2="795.0" stroke="#000" stroke-width="2.0" stroke-linecap="butt"/>
<line x1="184.5" y1="746.2" x2="199.8" y2="746.2" stroke="#000" stroke-width="2.0" stroke-linecap="butt"/>
<line x1="184.5" y1="795.0" x2="199.8" y2="795.0" stroke="#000" stroke-width="2.0" stroke-linecap="butt"/>
<rect x="179.1" y="780.9" width="26.2" height="8.8" fill="#ffffff" stroke="#000" stroke-width="2.0"/>
<line x1="179.1" y1="785.9" x2="205.3" y2="785.9" stroke="#000" stroke-width="2.0" stroke-linecap="butt"/>
<circle cx="192.2" cy="648.5" r="1.7" fill="#000"/>
<circle cx="192.2" cy="671.9" r="1.7" fill="#000"/>
<circle cx="192.2" cy="697.4" r="1.7" fill="#000"/>
<circle cx="191.9" cy="706.9" r="1.7" fill="#000"/>
<circle cx="195.8" cy="709.3" r="1.7" fill="#000"/>
<circle cx="191.9" cy="712.9" r="1.7" fill="#000"/>
<circle cx="188.1" cy="739.5" r="1.7" fill="#000"/>
<circle cx="192.2" cy="741.3" r="1.7" fill="#000"/>
<circle cx="183.7" cy="795.5" r="1.7" fill="#000"/>
<circle cx="187.2" cy="796.0" r="1.7" fill="#000"/>
<circle cx="190.7" cy="796.0" r="1.7" fill="#000"/>
<circle cx="194.7" cy="796.0" r="1.7" fill="#000"/>
<circle cx="198.2" cy="795.8" r="1.7" fill="#000"/>
<circle cx="200.7" cy="795.3" r="1.7" fill="#000"/>
<circle cx="192.2" cy="798.3" r="1.7" fill="#000"/>
<line x1="238.6" y1="688.9" x2="238.6" y2="724.6" stroke="#000" stroke-width="2.0" stroke-linecap="butt"/>
<line x1="238.6" y1="789.7" x2="238.6" y2="792.2" stroke="#000" stroke-width="2.0" stroke-linecap="butt"/>
<line x1="230.9" y1="688.9" x2="246.2" y2="688.9" stroke="#000" stroke-width="2.0" stroke-linecap="butt"/>
<line x1="230.9" y1="792.2" x2="246.2" y2="792.2" stroke="#000" stroke-width="2.0" stroke-linecap="butt"/>
<rect x="225.5" y="724.6" width="26.2" height="65.1" fill="#636363" stroke="#000" stroke-width="2.0"/>
<line x1="225.5" y1="765.1" x2="251.7" y2="765.1" stroke="#000" stroke-width="2.0" stroke-linecap="butt"/>
<line x1="278.9" y1="728.4" x2="278.9" y2="772.1" stroke="#000" stroke-width="2.0" stroke-linecap="butt"/>
<line x1="278.9" y1="789.4" x2="278.9" y2="792.4" stroke="#000" stroke-width="2.0" stroke-linecap="butt"/>
<line x1="271.2" y1="728.4" x2="286.5" y2="728.4" stroke="#000" stroke-width="2.0" stroke-linecap="butt"/>
<line x1="271.2" y1="792.4" x2="286.5" y2="792.4" stroke="#000" stroke-width="2.0" stroke-linecap="butt"/>
<rect x="265.8" y="772.1" width="26.2" height="17.3" fill="#a0a0a0" stroke="#000" stroke-width="2.0"/>
<line x1="265.8" y1="784.4" x2="292.0" y2="784.4" stroke="#000" stroke-width="2.0" stroke-linecap="butt"/>
<circle cx="278.7" cy="717.6" r="1.7" fill="#000"/>
<circle cx="278.9" cy="726.0" r="1.7" fill="#000"/>
<circle cx="277.8" cy="793.0" r="1.7" fill="#000"/>
<circle cx="283.1" cy="793.0" r="1.7" fill="#000"/>
<line x1="319.1" y1="746.2" x2="319.1" y2="780.9" stroke="#000" stroke-width="2.0" stroke-linecap="butt"/>
<line x1="319.1" y1="789.7" x2="319.1" y2="795.0" stroke="#000" stroke-width="2.0" stroke-linecap="butt"/>
<line x1="311.5" y1="746.2" x2="326.8" y2="746.2" stroke="#000" stroke-width="2.0" stroke-linecap="butt"/>
<line x1="311.5" y1="795.0" x2="326.8" y2="795.0" stroke="#000" stroke-width="2.0" stroke-linecap="butt"/>
<rect x="306.0" y="780.9" width="26.2" height="8.8" fill="#ffffff" stroke="#000" stroke-width="2.0"/>
<line x1="306.0" y1="785.9" x2="332.2" y2="785.9" stroke="#000" stroke-width="2.0" stroke-linecap="butt"/>
<circle cx="319.1" cy="648.5" r="1.7" fill="#000"/>
<circle cx="319.1" cy="671.9" r="1.7" fill="#000"/>
<circle cx="319.1" cy="697.4" r="1.7" fill="#000"/>
<circle cx="318.8" cy="706.9" r="1.7" fill="#000"/>
<circle cx="322.7" cy="709.3" r="1.7" fill="#000"/>
<circle cx="318.8" cy="712.9" r="1.7" fill="#000"/>
<circle cx="315.0" cy="739.5" r="1.7" fill="#000"/>
<circle cx="319.1" cy="741.3" r="1.7" fill="#000"/>
<circle cx="310.6" cy="795.5" r="1.7" fill="#000"/>
<circle cx="314.1" cy="796.0" r="1.7" fill="#000"/>
<circle cx="317.6" cy="796.0" r="1.7" fill="#000"/>
<circle cx="321.6" cy="796.0" r="1.7" fill="#000"/>
<circle cx="325.1" cy="795.8" r="1.7" fill="#000"/>
<circle cx="327.6" cy="795.3" r="1.7" fill="#000"/>
<circle cx="319.1" cy="798.3" r="1.7" fill="#000"/>
<line x1="366.6" y1="652.4" x2="366.6" y2="695.5" stroke="#000" stroke-width="2.0" stroke-linecap="butt"/>
<line x1="366.6" y1="774.4" x2="366.6" y2="779.7" stroke="#000" stroke-width="2.0" stroke-linecap="butt"/>
<line x1="359.0" y1="652.4" x2="374.2" y2="652.4" stroke="#000" stroke-width="2.0" stroke-linecap="butt"/>
<line x1="359.0" y1="779.7" x2="374.2" y2="779.7" stroke="#000" stroke-width="2.0" stroke-linecap="butt"/>
<rect x="353.5" y="695.5" width="26.2" height="78.9" fill="#636363" stroke="#000" stroke-width="2.0"/>
<line x1="353.5" y1="753.4" x2="379.7" y2="753.4" stroke="#000" stroke-width="2.0" stroke-linecap="butt"/>
<line x1="406.9" y1="693.3" x2="406.9" y2="737.4" stroke="#000" stroke-width="2.0" stroke-linecap="butt"/>
<line x1="406.9" y1="773.0" x2="406.9" y2="784.7" stroke="#000" stroke-width="2.0" stroke-linecap="butt"/>
<line x1="399.2" y1="693.3" x2="414.5" y2="693.3" stroke="#000" stroke-width="2.0" stroke-linecap="butt"/>
<line x1="399.2" y1="784.7" x2="414.5" y2="784.7" stroke="#000" stroke-width="2.0" stroke-linecap="butt"/>
<rect x="393.8" y="737.4" width="26.2" height="35.6" fill="#a0a0a0" stroke="#000" stroke-width="2.0"/>
<line x1="393.8" y1="759.0" x2="420.0" y2="759.0" stroke="#000" stroke-width="2.0" stroke-linecap="butt"/>
<circle cx="403.4" cy="690.7" r="1.7" fill="#000"/>
<circle cx="407.0" cy="691.9" r="1.7" fill="#000"/>
<circle cx="407.0" cy="787.2" r="1.7" fill="#000"/>
<circle cx="411.8" cy="784.7" r="1.7" fill="#000"/>
<line x1="447.1" y1="710.9" x2="447.1" y2="755.0" stroke="#000" stroke-width="2.0" stroke-linecap="butt"/>
<line x1="447.1" y1="776.0" x2="447.1" y2="783.0" stroke="#000" stroke-width="2.0" stroke-linecap="butt"/>
<line x1="439.5" y1="710.9" x2="454.8" y2="710.9" stroke="#000" stroke-width="2.0" stroke-linecap="butt"/>
<line x1="439.5" y1="783.0" x2="454.8" y2="783.0" stroke="#000" stroke-width="2.0" stroke-linecap="butt"/>
<rect x="434.0" y="755.0" width="26.2" height="21.0" fill="#ffffff" stroke="#000" stroke-width="2.0"/>
<line x1="434.0" y1="769.0" x2="460.2" y2="769.0" stroke="#000" stroke-width="2.0" stroke-linecap="butt"/>
<circle cx="447.1" cy="657.8" r="1.7" fill="#000"/>
<circle cx="447.1" cy="665.9" r="1.7" fill="#000"/>
<circle cx="447.1" cy="686.3" r="1.7" fill="#000"/>
<circle cx="443.1" cy="688.0" r="1.7" fill="#000"/>
<circle cx="447.9" cy="690.5" r="1.7" fill="#000"/>
<circle cx="451.5" cy="689.9" r="1.7" fill="#000"/>
<circle cx="439.5" cy="784.0" r="1.7" fill="#000"/>
<circle cx="443.1" cy="784.5" r="1.7" fill="#000"/>
<circle cx="447.1" cy="784.0" r="1.7" fill="#000"/>
<circle cx="451.1" cy="784.5" r="1.7" fill="#000"/>
<circle cx="454.9" cy="784.0" r="1.7" fill="#000"/>
<circle cx="443.7" cy="787.2" r="1.7" fill="#000"/>
<circle cx="447.9" cy="787.2" r="1.7" fill="#000"/>
<circle cx="447.1" cy="789.4" r="1.7" fill="#000"/>
<circle cx="447.1" cy="795.3" r="1.7" fill="#000"/>
<line x1="111.7" y1="812.8" x2="111.7" y2="816.9" stroke="#000" stroke-width="2.0" stroke-linecap="butt"/>
<text x="112.0" y="828.3" font-size="13.3" font-weight="700" text-anchor="middle" letter-spacing="0.3">4&amp;5</text>
<line x1="152.0" y1="812.8" x2="152.0" y2="816.9" stroke="#000" stroke-width="2.0" stroke-linecap="butt"/>
<text x="152.0" y="828.3" font-size="13.3" font-weight="700" text-anchor="middle" letter-spacing="0.3">6</text>
<line x1="192.2" y1="812.8" x2="192.2" y2="816.9" stroke="#000" stroke-width="2.0" stroke-linecap="butt"/>
<text x="192.2" y="828.3" font-size="13.3" font-weight="700" text-anchor="middle" letter-spacing="0.3">7</text>
<line x1="238.6" y1="812.8" x2="238.6" y2="816.9" stroke="#000" stroke-width="2.0" stroke-linecap="butt"/>
<text x="238.9" y="828.3" font-size="13.3" font-weight="700" text-anchor="middle" letter-spacing="0.3">4&amp;5</text>
<line x1="278.9" y1="812.8" x2="278.9" y2="816.9" stroke="#000" stroke-width="2.0" stroke-linecap="butt"/>
<text x="278.9" y="828.3" font-size="13.3" font-weight="700" text-anchor="middle" letter-spacing="0.3">6</text>
<line x1="319.1" y1="812.8" x2="319.1" y2="816.9" stroke="#000" stroke-width="2.0" stroke-linecap="butt"/>
<text x="319.1" y="828.3" font-size="13.3" font-weight="700" text-anchor="middle" letter-spacing="0.3">7</text>
<line x1="366.6" y1="812.8" x2="366.6" y2="816.9" stroke="#000" stroke-width="2.0" stroke-linecap="butt"/>
<text x="366.9" y="828.3" font-size="13.3" font-weight="700" text-anchor="middle" letter-spacing="0.3">4&amp;5</text>
<line x1="406.9" y1="812.8" x2="406.9" y2="816.9" stroke="#000" stroke-width="2.0" stroke-linecap="butt"/>
<text x="406.9" y="828.3" font-size="13.3" font-weight="700" text-anchor="middle" letter-spacing="0.3">6</text>
<line x1="447.1" y1="812.8" x2="447.1" y2="816.9" stroke="#000" stroke-width="2.0" stroke-linecap="butt"/>
<text x="447.1" y="828.3" font-size="13.3" font-weight="700" text-anchor="middle" letter-spacing="0.3">7</text>
</svg>
</body></html>
